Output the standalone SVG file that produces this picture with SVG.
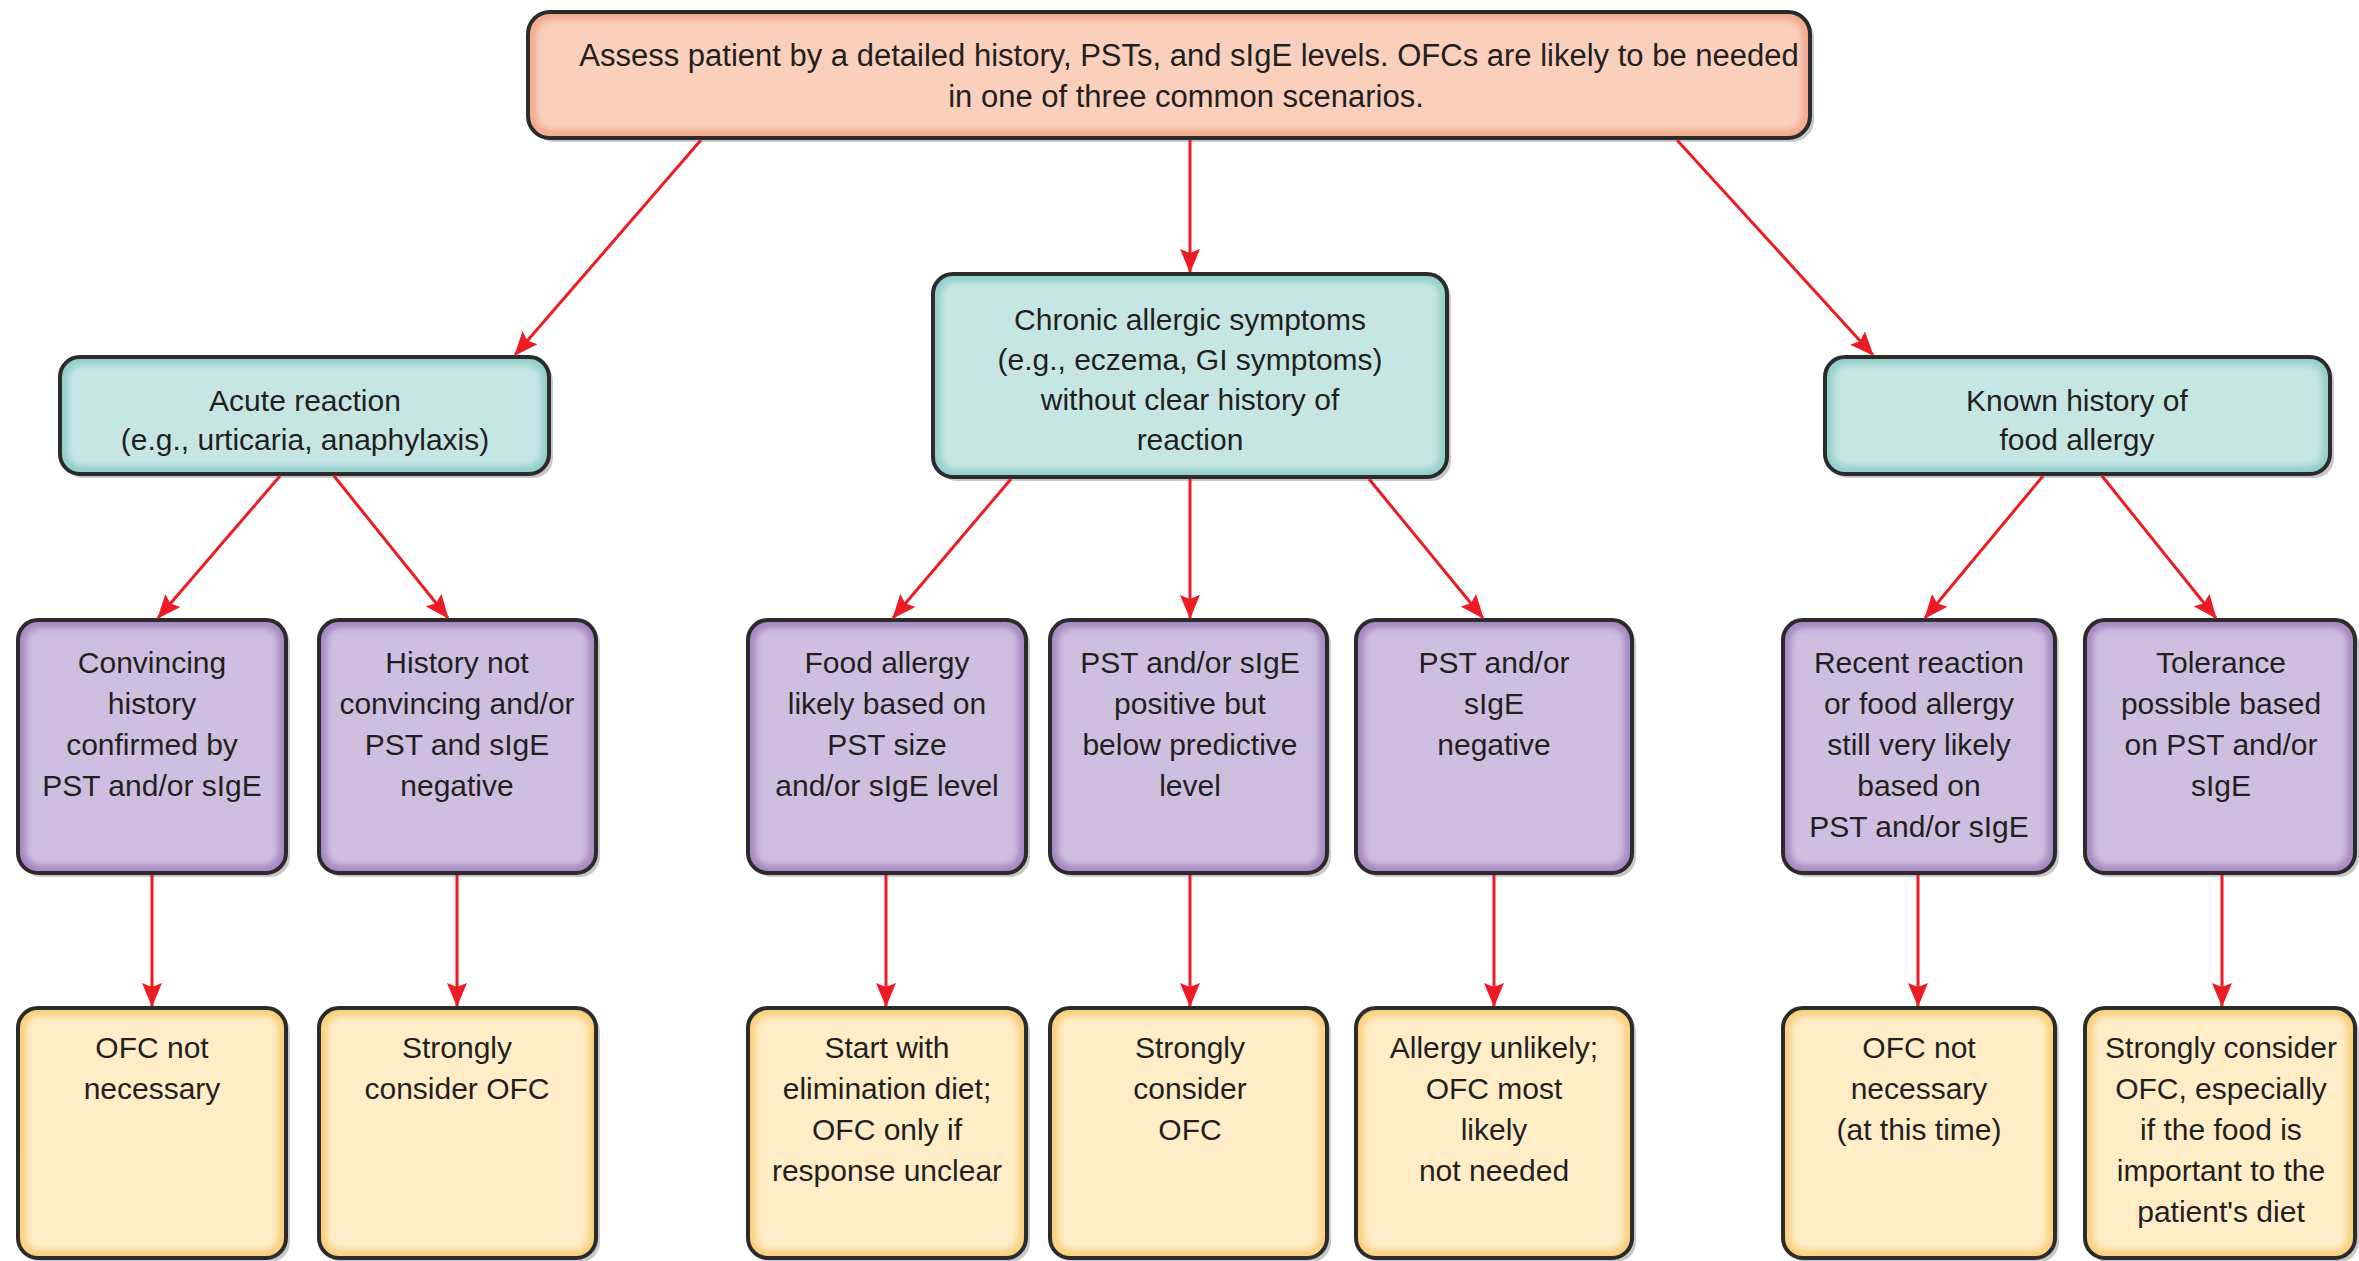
<svg xmlns="http://www.w3.org/2000/svg" width="2359" height="1261" viewBox="0 0 2359 1261">
<defs>
<filter id="soft" x="-5%" y="-5%" width="110%" height="110%"><feGaussianBlur stdDeviation="3"/></filter>
<marker id="ah" markerUnits="userSpaceOnUse" markerWidth="24" markerHeight="20" viewBox="0 0 24 20" refX="23" refY="10" orient="auto">
<path d="M0,0 L24,10 L0,20 L4,10 z" fill="#ec1c24"/>
</marker>
<style>
.sh{fill:#9a9a9a;opacity:.55}
.fr{stroke:#2b2b2b;stroke-width:4}
.in{filter:url(#soft)}
.pk .fr{fill:#f3a98c}.pk .in{fill:#fad0bd}
.tl .fr{fill:#93cfca}.tl .in{fill:#c6e6e4}
.pu .fr{fill:#a688c0}.pu .in{fill:#cebfe0}
.ye .fr{fill:#f9d07c}.ye .in{fill:#ffedc8}
text{font-family:"Liberation Sans",Arial,Helvetica,sans-serif;font-size:30px;fill:#231f20;text-anchor:middle}
.big{font-size:31px}
.c line{stroke:#ec1c24;stroke-width:3;marker-end:url(#ah)}
</style>
</defs>

<g id="top" class="pk">
<rect class="sh" x="532" y="16" width="1282" height="126" rx="22"/>
<rect class="fr" x="528" y="12" width="1282" height="126" rx="22"/>
<rect class="in" x="536" y="20" width="1266" height="110" rx="16"/>
<text class="big" x="1189" y="66">Assess patient by a detailed history, PSTs, and sIgE levels. OFCs are likely to be needed</text>
<text class="big" x="1186" y="107">in one of three common scenarios.</text>
</g>

<g id="acute" class="tl">
<rect class="sh" x="64" y="361" width="489" height="117" rx="20"/>
<rect class="fr" x="60" y="357" width="489" height="117" rx="20"/>
<rect class="in" x="68" y="365" width="473" height="101" rx="14"/>
<text x="305" y="411">Acute reaction</text>
<text x="305" y="450">(e.g., urticaria, anaphylaxis)</text>
</g>

<g id="chronic" class="tl">
<rect class="sh" x="937" y="278" width="514" height="203" rx="20"/>
<rect class="fr" x="933" y="274" width="514" height="203" rx="20"/>
<rect class="in" x="941" y="282" width="498" height="187" rx="14"/>
<text x="1190" y="330">Chronic allergic symptoms</text>
<text x="1190" y="370">(e.g., eczema, GI symptoms)</text>
<text x="1190" y="410">without clear history of</text>
<text x="1190" y="450">reaction</text>
</g>

<g id="known" class="tl">
<rect class="sh" x="1829" y="361" width="505" height="117" rx="20"/>
<rect class="fr" x="1825" y="357" width="505" height="117" rx="20"/>
<rect class="in" x="1833" y="365" width="489" height="101" rx="14"/>
<text x="2077" y="411">Known history of</text>
<text x="2077" y="450">food allergy</text>
</g>

<g id="b1" class="pu">
<rect class="sh" x="22" y="624" width="268" height="253" rx="20"/>
<rect class="fr" x="18" y="620" width="268" height="253" rx="20"/>
<rect class="in" x="26" y="628" width="252" height="237" rx="14"/>
<text x="152" y="673">Convincing</text>
<text x="152" y="714">history</text>
<text x="152" y="755">confirmed by</text>
<text x="152" y="796">PST and/or sIgE</text>
</g>

<g id="b2" class="pu">
<rect class="sh" x="323" y="624" width="277" height="253" rx="20"/>
<rect class="fr" x="319" y="620" width="277" height="253" rx="20"/>
<rect class="in" x="327" y="628" width="261" height="237" rx="14"/>
<text x="457" y="673">History not</text>
<text x="457" y="714">convincing and/or</text>
<text x="457" y="755">PST and sIgE</text>
<text x="457" y="796">negative</text>
</g>

<g id="b3" class="pu">
<rect class="sh" x="752" y="624" width="278" height="253" rx="20"/>
<rect class="fr" x="748" y="620" width="278" height="253" rx="20"/>
<rect class="in" x="756" y="628" width="262" height="237" rx="14"/>
<text x="887" y="673">Food allergy</text>
<text x="887" y="714">likely based on</text>
<text x="887" y="755">PST size</text>
<text x="887" y="796">and/or sIgE level</text>
</g>

<g id="b4" class="pu">
<rect class="sh" x="1054" y="624" width="277" height="253" rx="20"/>
<rect class="fr" x="1050" y="620" width="277" height="253" rx="20"/>
<rect class="in" x="1058" y="628" width="261" height="237" rx="14"/>
<text x="1190" y="673">PST and/or sIgE</text>
<text x="1190" y="714">positive but</text>
<text x="1190" y="755">below predictive</text>
<text x="1190" y="796">level</text>
</g>

<g id="b5" class="pu">
<rect class="sh" x="1360" y="624" width="276" height="253" rx="20"/>
<rect class="fr" x="1356" y="620" width="276" height="253" rx="20"/>
<rect class="in" x="1364" y="628" width="260" height="237" rx="14"/>
<text x="1494" y="673">PST and/or</text>
<text x="1494" y="714">sIgE</text>
<text x="1494" y="755">negative</text>
</g>

<g id="b6" class="pu">
<rect class="sh" x="1787" y="624" width="272" height="253" rx="20"/>
<rect class="fr" x="1783" y="620" width="272" height="253" rx="20"/>
<rect class="in" x="1791" y="628" width="256" height="237" rx="14"/>
<text x="1919" y="673">Recent reaction</text>
<text x="1919" y="714">or food allergy</text>
<text x="1919" y="755">still very likely</text>
<text x="1919" y="796">based on</text>
<text x="1919" y="837">PST and/or sIgE</text>
</g>

<g id="b7" class="pu">
<rect class="sh" x="2089" y="624" width="270" height="253" rx="20"/>
<rect class="fr" x="2085" y="620" width="270" height="253" rx="20"/>
<rect class="in" x="2093" y="628" width="254" height="237" rx="14"/>
<text x="2221" y="673">Tolerance</text>
<text x="2221" y="714">possible based</text>
<text x="2221" y="755">on PST and/or</text>
<text x="2221" y="796">sIgE</text>
</g>

<g id="y1" class="ye">
<rect class="sh" x="22" y="1012" width="268" height="250" rx="20"/>
<rect class="fr" x="18" y="1008" width="268" height="250" rx="20"/>
<rect class="in" x="26" y="1016" width="252" height="234" rx="14"/>
<text x="152" y="1058">OFC not</text>
<text x="152" y="1099">necessary</text>
</g>

<g id="y2" class="ye">
<rect class="sh" x="323" y="1012" width="277" height="250" rx="20"/>
<rect class="fr" x="319" y="1008" width="277" height="250" rx="20"/>
<rect class="in" x="327" y="1016" width="261" height="234" rx="14"/>
<text x="457" y="1058">Strongly</text>
<text x="457" y="1099">consider OFC</text>
</g>

<g id="y3" class="ye">
<rect class="sh" x="752" y="1012" width="278" height="250" rx="20"/>
<rect class="fr" x="748" y="1008" width="278" height="250" rx="20"/>
<rect class="in" x="756" y="1016" width="262" height="234" rx="14"/>
<text x="887" y="1058">Start with</text>
<text x="887" y="1099">elimination diet;</text>
<text x="887" y="1140">OFC only if</text>
<text x="887" y="1181">response unclear</text>
</g>

<g id="y4" class="ye">
<rect class="sh" x="1054" y="1012" width="277" height="250" rx="20"/>
<rect class="fr" x="1050" y="1008" width="277" height="250" rx="20"/>
<rect class="in" x="1058" y="1016" width="261" height="234" rx="14"/>
<text x="1190" y="1058">Strongly</text>
<text x="1190" y="1099">consider</text>
<text x="1190" y="1140">OFC</text>
</g>

<g id="y5" class="ye">
<rect class="sh" x="1360" y="1012" width="276" height="250" rx="20"/>
<rect class="fr" x="1356" y="1008" width="276" height="250" rx="20"/>
<rect class="in" x="1364" y="1016" width="260" height="234" rx="14"/>
<text x="1494" y="1058">Allergy unlikely;</text>
<text x="1494" y="1099">OFC most</text>
<text x="1494" y="1140">likely</text>
<text x="1494" y="1181">not needed</text>
</g>

<g id="y6" class="ye">
<rect class="sh" x="1787" y="1012" width="272" height="250" rx="20"/>
<rect class="fr" x="1783" y="1008" width="272" height="250" rx="20"/>
<rect class="in" x="1791" y="1016" width="256" height="234" rx="14"/>
<text x="1919" y="1058">OFC not</text>
<text x="1919" y="1099">necessary</text>
<text x="1919" y="1140">(at this time)</text>
</g>

<g id="y7" class="ye">
<rect class="sh" x="2089" y="1012" width="270" height="250" rx="20"/>
<rect class="fr" x="2085" y="1008" width="270" height="250" rx="20"/>
<rect class="in" x="2093" y="1016" width="254" height="234" rx="14"/>
<text x="2221" y="1058">Strongly consider</text>
<text x="2221" y="1099">OFC, especially</text>
<text x="2221" y="1140">if the food is</text>
<text x="2221" y="1181">important to the</text>
<text x="2221" y="1222">patient's diet</text>
</g>

<g id="connectors" class="c">
<line x1="701" y1="140" x2="515" y2="355"/>
<line x1="1190" y1="140" x2="1190" y2="272"/>
<line x1="1677" y1="140" x2="1873" y2="355"/>
<line x1="280" y1="476" x2="158" y2="618"/>
<line x1="334" y1="476" x2="448" y2="618"/>
<line x1="1011" y1="479" x2="893" y2="618"/>
<line x1="1190" y1="479" x2="1190" y2="618"/>
<line x1="1369" y1="479" x2="1483" y2="618"/>
<line x1="2043" y1="476" x2="1925" y2="618"/>
<line x1="2102" y1="476" x2="2216" y2="618"/>
<line x1="152" y1="875" x2="152" y2="1006"/>
<line x1="457" y1="875" x2="457" y2="1006"/>
<line x1="886" y1="875" x2="886" y2="1006"/>
<line x1="1190" y1="875" x2="1190" y2="1006"/>
<line x1="1494" y1="875" x2="1494" y2="1006"/>
<line x1="1918" y1="875" x2="1918" y2="1006"/>
<line x1="2222" y1="875" x2="2222" y2="1006"/>
</g>
</svg>
